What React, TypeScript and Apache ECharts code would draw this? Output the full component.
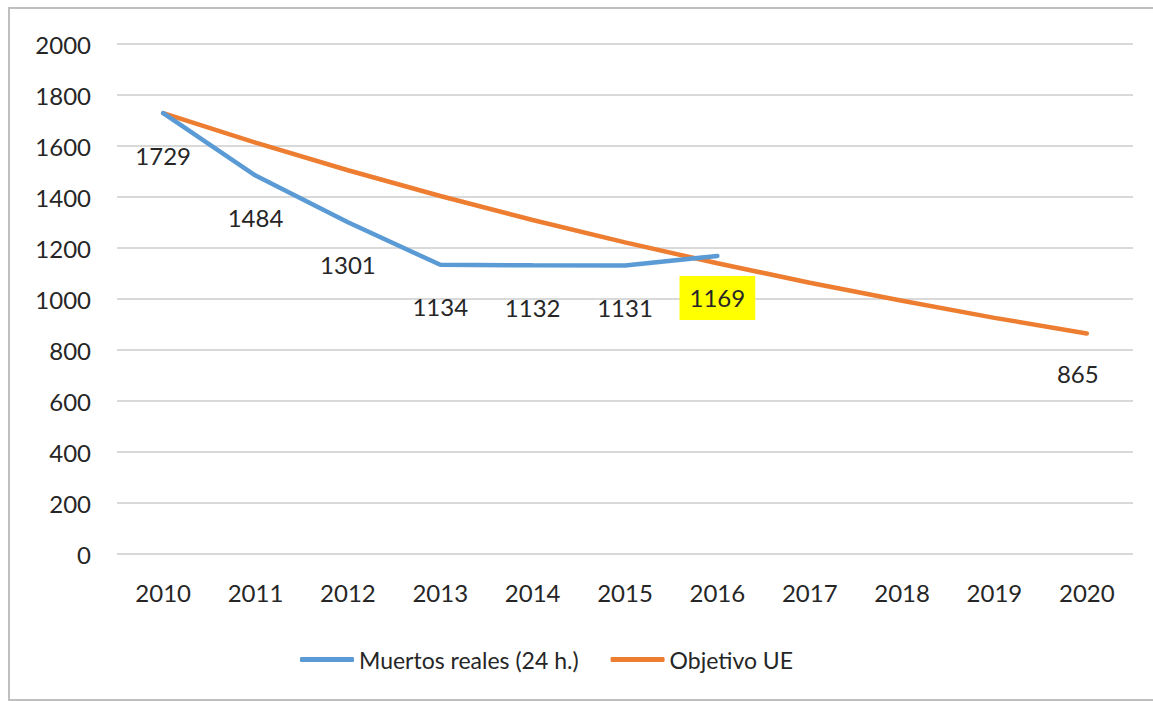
import React, { useEffect, useRef } from "react";
import * as echarts from "echarts";

const years = ["2010", "2011", "2012", "2013", "2014", "2015", "2016", "2017", "2018", "2019", "2020"];
const realDeaths = [1729, 1484, 1301, 1134, 1132, 1131, 1169];
const euTarget = [1729, 1613, 1505, 1404, 1310, 1222, 1140, 1064, 993, 926, 865];
const highlightIndex = 6;

const FONT = "Lato, 'Open Sans', sans-serif";
const TEXT = "#262626";

export default function App() {
  const ref = useRef<HTMLDivElement>(null);
  useEffect(() => {
    const chart = echarts.init(ref.current!, null, { renderer: "svg" });
    const realData = realDeaths.map((v, i) => {
      if (i === highlightIndex) {
        return {
          value: v,
          label: { backgroundColor: "#FFFF00", padding: [10, 10], distance: 20 },
        };
      }
      return { value: v };
    });
    const targetData = euTarget.map((v, i) => {
      if (i === euTarget.length - 1) {
        return { value: v, label: { show: true, offset: [-9, 0] } };
      }
      return { value: v };
    });
    chart.setOption({
      animation: false,
      textStyle: { fontFamily: FONT },
      graphic: [
        {
          type: "rect",
          shape: { x: 9, y: 8, width: 1200, height: 692 },
          style: { fill: "none", stroke: "#BFBFBF", lineWidth: 2 },
          silent: true,
        },
      ],
      grid: { left: 117, right: 20, top: 44, bottom: 147, containLabel: false },
      legend: {
        left: 295,
        top: 643,
        itemWidth: 54,
        itemHeight: 5,
        itemGap: 32,
        icon: "roundRect",
        textStyle: { fontFamily: FONT, fontSize: 23, color: TEXT, padding: [0, 0, 0, 0] },
        data: ["Muertos reales (24 h.)", "Objetivo UE"],
      },
      xAxis: {
        type: "category",
        data: years,
        boundaryGap: true,
        axisLine: { show: false },
        axisTick: { show: false },
        axisLabel: { fontFamily: FONT, fontSize: 24, color: TEXT, margin: 26 },
      },
      yAxis: {
        type: "value",
        min: 0,
        max: 2000,
        interval: 200,
        axisLine: { show: false },
        axisTick: { show: false },
        axisLabel: {
          fontFamily: FONT,
          fontSize: 24,
          color: TEXT,
          margin: 26,
          formatter: (v: number) => String(v),
        },
        splitLine: { lineStyle: { color: "#D9D9D9", width: 2 } },
      },
      series: [
        {
          name: "Objetivo UE",
          type: "line",
          data: targetData,
          symbol: "circle",
          symbolSize: 0,
          showSymbol: true,
          color: "#ED7D31",
          itemStyle: { color: "#ED7D31" },
          lineStyle: { color: "#ED7D31", width: 4.5, cap: "round" },
          label: {
            show: false,
            position: "bottom",
            distance: 28,
            fontFamily: FONT,
            fontSize: 24,
            color: TEXT,
          },
          z: 2,
        },
        {
          name: "Muertos reales (24 h.)",
          type: "line",
          data: realData,
          symbol: "circle",
          symbolSize: 0,
          showSymbol: true,
          color: "#5B9BD5",
          itemStyle: { color: "#5B9BD5" },
          lineStyle: { color: "#5B9BD5", width: 4.5, cap: "round" },
          label: {
            show: true,
            position: "bottom",
            distance: 30,
            fontFamily: FONT,
            fontSize: 24,
            color: TEXT,
          },
          z: 3,
        },
      ],
    });
    return () => chart.dispose();
  }, []);
  return (
    <div
      ref={ref}
      style={{ position: "absolute", left: 0, top: 0, width: 1153, height: 701, background: "#fff" }}
    />
  );
}
